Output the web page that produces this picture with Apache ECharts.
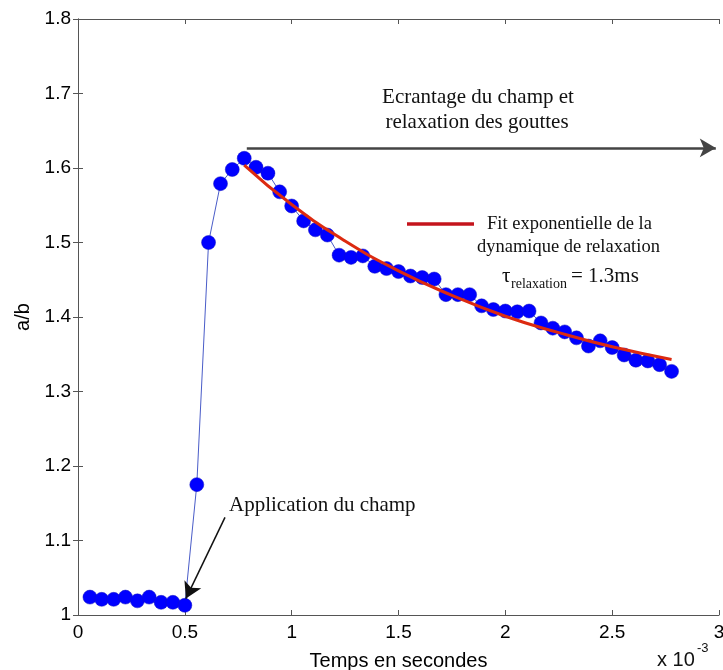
<!DOCTYPE html>
<html>
<head>
<meta charset="utf-8">
<script src="https://cdn.jsdelivr.net/npm/echarts@6/dist/echarts.min.js"></script>
<style>
  html, body { margin: 0; padding: 0; background: #fff; }
  #main { width: 723px; height: 670px; }
</style>
</head>
<body>
<div id="main"></div>
<script>
// temps (x 10^-3 s) et rapport a/b mesures
var temps = [0.056, 0.111, 0.167, 0.222, 0.278, 0.333, 0.389, 0.444, 0.5, 0.556,
    0.611, 0.667, 0.722, 0.778, 0.833, 0.889, 0.944, 1.0, 1.056, 1.111,
    1.167, 1.222, 1.278, 1.333, 1.389, 1.444, 1.5, 1.556, 1.611, 1.667,
    1.722, 1.778, 1.833, 1.889, 1.944, 2.0, 2.056, 2.111, 2.167, 2.222,
    2.278, 2.333, 2.389, 2.444, 2.5, 2.556, 2.611, 2.667, 2.722, 2.778];
var rapport = [1.024, 1.021, 1.021, 1.024, 1.019, 1.024, 1.017, 1.017, 1.013, 1.175,
    1.500, 1.579, 1.598, 1.613, 1.601, 1.593, 1.568, 1.549, 1.529, 1.517,
    1.510, 1.483, 1.480, 1.482, 1.468, 1.465, 1.461, 1.455, 1.453, 1.451,
    1.430, 1.430, 1.430, 1.415, 1.410, 1.408, 1.407, 1.408, 1.392, 1.385,
    1.380, 1.372, 1.361, 1.368, 1.359, 1.349, 1.342, 1.341, 1.336, 1.327];

// courbe du fit exponentiel
var fitTemps = [0.778, 1.0, 1.25, 1.5, 1.75, 2.0, 2.25, 2.5, 2.778];
var fitValeurs = [1.604, 1.551, 1.502, 1.462, 1.429, 1.401, 1.379, 1.360, 1.343];

var xTicks = [0, 3, 0.5];      // min, max, pas
var yTicks = [1, 1.8, 0.1];

var serif = 'Liberation Serif', sans = 'Liberation Sans';

function pairs(xs, ys){
    var out = [];
    for (var i = 0; i < xs.length; i++) out.push([xs[i], ys[i]]);
    return out;
}

function txt(str, x, y, size, family, align){
    return { type: 'text', style: {
        text: str, x: x, y: y, font: size + 'px ' + family, fill: '#111',
        align: align || 'left', verticalAlign: 'middle'
    } };
}

var myChart = echarts.init(document.getElementById('main'));

var axisLine = { show: true, lineStyle: { color: '#555', width: 1 } },
    tick = { show: true, inside: true, length: 5, lineStyle: { color: '#555' } };

var option = {
    animation: false,
    backgroundColor: '#fff',
    grid: { left: 78, right: 4, top: 19, bottom: 55, containLabel: false, outerBoundsMode: 'none' },
    xAxis: [{
        type: 'value', min: xTicks[0], max: xTicks[1], interval: xTicks[2],
        axisLine: axisLine, axisTick: tick, splitLine: { show: false },
        axisLabel: { color: '#000', fontFamily: sans, fontSize: 19, margin: 8 },
        name: 'Temps en secondes', nameLocation: 'middle', nameGap: 36,
        nameTextStyle: { color: '#000', fontFamily: sans, fontSize: 20 }
    }, {
        type: 'value', position: 'top', min: xTicks[0], max: xTicks[1], interval: xTicks[2],
        axisLine: axisLine, axisTick: tick, splitLine: { show: false }, axisLabel: { show: false }
    }],
    yAxis: [{
        type: 'value', min: yTicks[0], max: yTicks[1], interval: yTicks[2],
        axisLine: axisLine, axisTick: tick, splitLine: { show: false },
        axisLabel: { color: '#000', fontFamily: sans, fontSize: 19, margin: 7 },
        name: 'a/b', nameLocation: 'middle', nameGap: 44, nameRotate: 90,
        nameTextStyle: { color: '#000', fontFamily: sans, fontSize: 20 }
    }, {
        type: 'value', position: 'right', min: yTicks[0], max: yTicks[1], interval: yTicks[2],
        axisLine: axisLine, axisTick: tick, splitLine: { show: false }, axisLabel: { show: false }
    }],
    series: [{
        name: 'a/b', type: 'line', xAxisIndex: 0, yAxisIndex: 0,
        data: pairs(temps, rapport),
        symbol: 'circle', symbolSize: 14,
        itemStyle: { color: '#0000ff', borderColor: '#1010c0', borderWidth: 0.5 },
        lineStyle: { color: '#4a5cc8', width: 1 },
        z: 2,
        markLine: {
            silent: true, animation: false,
            symbol: ['none', 'arrow'], symbolSize: [14, 16],
            label: { show: false },
            lineStyle: { type: 'solid', color: '#444', width: 2.5 },
            data: [
                [{ coord: [0.79, 1.627] }, { coord: [2.985, 1.627] }],
                [{ coord: [0.688, 1.131], lineStyle: { color: '#111', width: 1.5 } },
                 { coord: [0.505, 1.022] }]
            ]
        }
    }, {
        name: 'fit', type: 'line', xAxisIndex: 0, yAxisIndex: 0,
        data: pairs(fitTemps, fitValeurs),
        smooth: true, showSymbol: false, symbol: 'none',
        lineStyle: { color: '#dc2a10', width: 3 },
        z: 3
    }],
    graphic: [
        txt('Ecrantage du champ et', 478, 97, 21, serif, 'center'),
        txt('relaxation des gouttes', 477, 122, 21, serif, 'center'),
        { type: 'line', shape: { x1: 407, y1: 224, x2: 474, y2: 224 }, style: { stroke: '#c4141c', lineWidth: 3.5 } },
        txt('Fit exponentielle de la', 487, 224, 18.5, serif),
        txt('dynamique de relaxation', 477, 247, 18.5, serif),
        txt('τ', 502, 276, 21, serif),
        txt('relaxation', 511, 284, 14, serif),
        txt('= 1.3ms', 571, 276, 21, serif),
        txt('Application du champ', 229, 505, 21, serif),
        txt('x 10', 657, 660, 20, sans),
        txt('-3', 697, 648, 13, sans)
    ]
};

myChart.setOption(option);
</script>
</body>
</html>
